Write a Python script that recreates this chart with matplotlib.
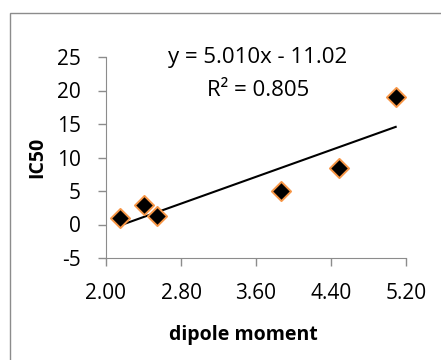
import matplotlib.pyplot as plt
import numpy as np
from matplotlib.patches import Rectangle

# data
dipole = [2.15, 2.41, 2.54, 3.87, 4.48, 5.09]
ic50 = [0.9, 2.9, 1.2, 5.0, 8.4, 19.0]
xticks = [2.00, 2.80, 3.60, 4.40, 5.20]
yticks = [-5, 0, 5, 10, 15, 20, 25]

plt.rcParams['font.family'] = ['Open Sans', 'DejaVu Sans']
plt.rcParams['axes.unicode_minus'] = False

fig = plt.figure(figsize=(4.41, 3.6), dpi=100)
ax = fig.add_axes([106 / 441, 1 - 258 / 360, 300 / 441, 201 / 360])

# outer chart frame
fig.patches.append(Rectangle((10 / 441, -0.1), 1.0, 1 - 13 / 360 + 0.1,
                             transform=fig.transFigure, fill=False,
                             edgecolor='#8c8c8c', linewidth=1.0))

ax.scatter(dipole, ic50, marker='D', s=95, color='black',
           edgecolor='#f79646', linewidth=1.4, zorder=3)

slope, icpt = np.polyfit(dipole, ic50, 1)
xs = np.array([min(dipole), max(dipole)])
ax.plot(xs, slope * xs + icpt, color='black', linewidth=1.5, zorder=2)

ax.set_xlim(2.0, 5.2)
ax.set_ylim(-5, 25)
ax.set_xticks(xticks)
ax.set_xticklabels([f'{t:.2f}' for t in xticks])
ax.set_yticks(yticks)

for s in ['top', 'right']:
    ax.spines[s].set_visible(False)
for s in ['left', 'bottom']:
    ax.spines[s].set_color('#8c8c8c')
ax.tick_params(axis='both', length=6, color='#8c8c8c', labelsize=15, width=1)
ax.tick_params(axis='x', pad=12)
ax.tick_params(axis='y', pad=12)

fig.text(243 / 441, 1 - 335 / 360, 'dipole moment', fontsize=14,
         fontweight='bold', ha='center', va='center')
fig.text(37 / 441, 1 - 157 / 360, 'IC50', fontsize=14, fontweight='bold',
         ha='center', va='center', rotation=90)

fig.text(258 / 441, 1 - 57 / 360, 'y = 5.010x - 11.02', ha='center',
         va='center', fontsize=16)
fig.text(258 / 441, 1 - 90 / 360, 'R² = 0.805', ha='center', va='center',
         fontsize=16)

fig.savefig('out.png', dpi=100)
